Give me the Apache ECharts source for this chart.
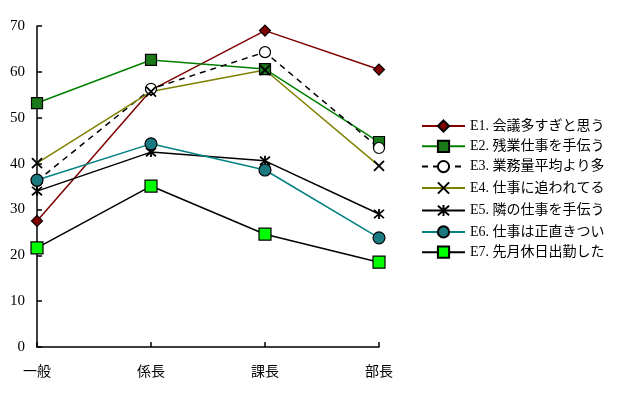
<!DOCTYPE html>
<html><head><meta charset="utf-8">
<script src="https://cdn.jsdelivr.net/npm/echarts@6/dist/echarts.min.js"></script>
<style>html,body{margin:0;padding:0;background:#fff}#c{width:622px;height:394px}</style>
</head><body><div id="c"></div>
<script>
const categories = ['一般', '係長', '課長', '部長'];
const names = ['E1. 会議多すぎと思う','E2. 残業仕事を手伝う','E3. 業務量平均より多','E4. 仕事に追われてる','E5. 隣の仕事を手伝う','E6. 仕事は正直きつい','E7. 先月休日出勤した'];
const e1 = [27.5, 56.0, 69.0, 60.5];
const e2 = [53.2, 62.6, 60.6, 44.7];
const e3 = [36.2, 56.3, 64.3, 43.4];
const e4 = [40.1, 55.7, 60.4, 39.5];
const e5 = [34.0, 42.5, 40.6, 29.0];
const e6 = [36.4, 44.3, 38.6, 23.8];
const e7 = [21.6, 35.1, 24.6, 18.5];
const yTicks = [0, 10, 20, 30, 40, 50, 60, 70];

const FONT = '"Liberation Serif", "Noto Sans CJK JP", serif';
const XPATH = 'path://M0,0L10,10M10,0L0,10';
const ASTER = 'path://M0,0L10,10M10,0L0,10M5,-1L5,11';
function mk(name, data, color, lineType, symbol, size, fill, border) {
  return {
    name, type: 'line', data, symbol, symbolSize: size,
    lineStyle: { color, width: 1.5, type: lineType },
    itemStyle: { color: fill, borderColor: border, borderWidth: 1.2 },
    emphasis: { disabled: true }, z: 2
  };
}
const series = [
  mk(names[0], e1, '#800000', 'solid', 'diamond', 11, '#800000', '#000'),
  mk(names[1], e2, '#008000', 'solid', 'rect', 11, '#1a7a1a', '#000'),
  mk(names[2], e3, '#000000', [6,5], 'circle', 11, '#ffffff', '#000'),
  mk(names[3], e4, '#808000', 'solid', XPATH, 10, 'none', '#000'),
  mk(names[4], e5, '#000000', 'solid', ASTER, 10, 'none', '#000'),
  mk(names[5], e6, '#008080', 'solid', 'circle', 12, '#1a7a80', '#000'),
  mk(names[6], e7, '#000000', 'solid', 'rect', 12, '#00ff00', '#000')
];
series[3].itemStyle.borderWidth = 1.8;
series[4].itemStyle.borderWidth = 1.8;

const chart = echarts.init(document.getElementById('c'), null, {renderer: 'canvas'});
chart.setOption({
  animation: false,
  backgroundColor: '#fff',
  textStyle: { fontFamily: FONT },
  grid: { left: 37, right: 243, top: 26, bottom: 47 },
  legend: {
    orient: 'vertical', left: 416, top: 114, itemGap: 6.3, itemWidth: 43, itemHeight: 14,
    textStyle: { fontFamily: FONT, fontSize: 14, color: '#000' },
    data: names
  },
  xAxis: {
    type: 'category', data: categories, boundaryGap: false,
    axisLine: { lineStyle: { color: '#000', width: 1.5 } },
    axisTick: { inside: true, length: 5, lineStyle: { color: '#000', width: 1.5 } },
    axisLabel: { color: '#000', fontSize: 14, fontFamily: FONT, margin: 18 },
    splitLine: { show: false }
  },
  yAxis: {
    type: 'value', min: 0, max: 70, interval: 10,
    axisLine: { show: true, lineStyle: { color: '#000', width: 1.5 } },
    axisTick: { show: true, inside: true, length: 5, lineStyle: { color: '#000', width: 1.5 } },
    axisLabel: { color: '#000', fontSize: 15, fontFamily: FONT, margin: 12,
      formatter: v => yTicks.includes(v) ? String(v) : '' },
    splitLine: { show: false }
  },
  series
});
</script></body></html>
